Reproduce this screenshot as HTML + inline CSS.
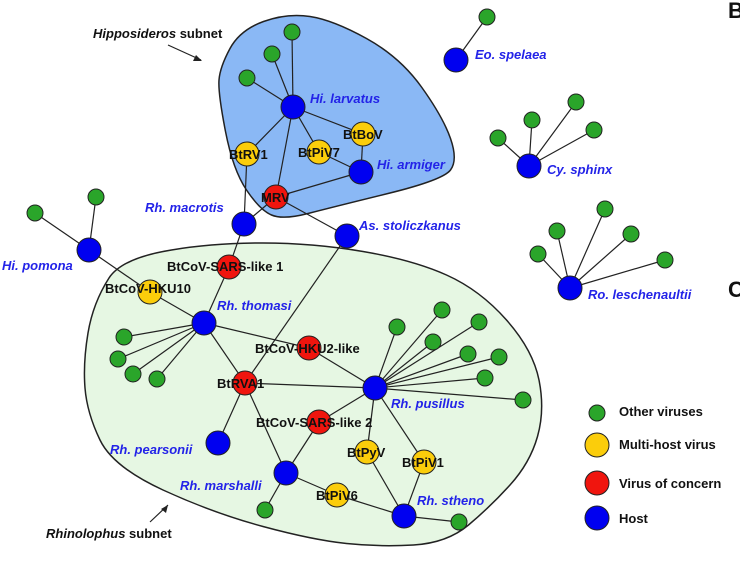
<!DOCTYPE html>
<html><head><meta charset="utf-8"><style>
html,body{margin:0;padding:0;background:#fff}
svg{display:block}
text{font-family:"Liberation Sans",Arial,sans-serif;font-weight:bold;font-size:13px}
.h{fill:#2323e8;font-style:italic}
.v{fill:#111}
</style></head><body>
<svg width="740" height="561" viewBox="0 0 740 561" xmlns="http://www.w3.org/2000/svg">
<path d="M171.5,250 Q213,243 263,243 Q313,243 363,251.5 Q413,260 446.5,275 Q480,290 506.5,320 Q533,350 539,380 Q545,410 537.5,436.5 Q530,463 510,485 Q490,507 468.5,525 Q447,543 413.5,545 Q380,547 346.5,543.5 Q313,540 263,526.5 Q213,513 163,490 Q113,467 100,440 Q87,413 85,388 Q83,363 88,333 Q93,303 109,278 Q122,258 171.5,250Z" fill="#e6f7e3" stroke="#222" stroke-width="1.5"/>
<path d="M230,48.5 Q240,30 263.5,21.5 Q287,13 310,16.5 Q333,20 366.5,38.5 Q400,57 421.5,87 Q443,117 450.5,138.5 Q458,160 450.5,170 Q443,180 388,193.5 Q333,207 308,213.5 Q283,220 271.5,215 Q260,210 246.5,190 Q233,170 225.5,131.5 Q218,93 219,80 Q220,67 230,48.5Z" fill="#8ab8f5" stroke="#222" stroke-width="1.5"/>
<g stroke="#222" stroke-width="1.2">
<line x1="293" y1="107" x2="292" y2="32"/><line x1="293" y1="107" x2="272" y2="54"/><line x1="293" y1="107" x2="247" y2="78"/>
<line x1="293" y1="107" x2="247" y2="154"/><line x1="293" y1="107" x2="319" y2="152"/><line x1="293" y1="107" x2="363" y2="134"/><line x1="293" y1="107" x2="276" y2="197"/>
<line x1="363" y1="134" x2="361" y2="172"/><line x1="319" y1="152" x2="361" y2="172"/><line x1="361" y1="172" x2="276" y2="197"/>
<line x1="247" y1="154" x2="244" y2="224"/><line x1="276" y1="197" x2="244" y2="224"/><line x1="276" y1="197" x2="347" y2="236"/>
<line x1="244" y1="224" x2="229" y2="267"/><line x1="229" y1="267" x2="204" y2="323"/><line x1="347" y1="236" x2="245" y2="383"/>
<line x1="89" y1="250" x2="35" y2="213"/><line x1="89" y1="250" x2="96" y2="197"/><line x1="89" y1="250" x2="150" y2="292"/><line x1="150" y1="292" x2="204" y2="323"/>
<line x1="204" y1="323" x2="124" y2="337"/><line x1="204" y1="323" x2="118" y2="359"/><line x1="204" y1="323" x2="133" y2="374"/><line x1="204" y1="323" x2="157" y2="379"/>
<line x1="204" y1="323" x2="309" y2="348"/><line x1="309" y1="348" x2="375" y2="388"/><line x1="204" y1="323" x2="245" y2="383"/><line x1="245" y1="383" x2="375" y2="388"/>
<line x1="245" y1="383" x2="218" y2="443"/><line x1="245" y1="383" x2="286" y2="473"/><line x1="286" y1="473" x2="319" y2="422"/><line x1="319" y1="422" x2="375" y2="388"/>
<line x1="286" y1="473" x2="265" y2="510"/><line x1="286" y1="473" x2="337" y2="495"/><line x1="337" y1="495" x2="404" y2="516"/>
<line x1="375" y1="388" x2="367" y2="452"/><line x1="367" y1="452" x2="404" y2="516"/><line x1="375" y1="388" x2="424" y2="462"/><line x1="424" y1="462" x2="404" y2="516"/><line x1="404" y1="516" x2="459" y2="522"/>
<line x1="375" y1="388" x2="397" y2="327"/><line x1="375" y1="388" x2="442" y2="310"/><line x1="375" y1="388" x2="479" y2="322"/><line x1="375" y1="388" x2="433" y2="342"/><line x1="375" y1="388" x2="468" y2="354"/><line x1="375" y1="388" x2="499" y2="357"/><line x1="375" y1="388" x2="485" y2="378"/><line x1="375" y1="388" x2="523" y2="400"/>
<line x1="456" y1="60" x2="487" y2="17"/>
<line x1="529" y1="166" x2="498" y2="138"/><line x1="529" y1="166" x2="532" y2="120"/><line x1="529" y1="166" x2="576" y2="102"/><line x1="529" y1="166" x2="594" y2="130"/>
<line x1="570" y1="288" x2="538" y2="254"/><line x1="570" y1="288" x2="557" y2="231"/><line x1="570" y1="288" x2="605" y2="209"/><line x1="570" y1="288" x2="631" y2="234"/><line x1="570" y1="288" x2="665" y2="260"/>
<line x1="168" y1="45" x2="201" y2="60"/>
<line x1="150" y1="522" x2="168" y2="505"/>
</g>
<path d="M202,61 l-9,-0 l3,-6 z" fill="#222"/>
<path d="M168,505 l-2,8 l-5,-4 z" fill="#222"/>
<g stroke="#222" stroke-width="1" fill="#2aa52a">
<circle cx="292" cy="32" r="8"/><circle cx="272" cy="54" r="8"/><circle cx="247" cy="78" r="8"/>
<circle cx="35" cy="213" r="8"/><circle cx="96" cy="197" r="8"/>
<circle cx="124" cy="337" r="8"/><circle cx="118" cy="359" r="8"/><circle cx="133" cy="374" r="8"/><circle cx="157" cy="379" r="8"/>
<circle cx="265" cy="510" r="8"/><circle cx="459" cy="522" r="8"/>
<circle cx="397" cy="327" r="8"/><circle cx="442" cy="310" r="8"/><circle cx="479" cy="322" r="8"/><circle cx="433" cy="342" r="8"/><circle cx="468" cy="354" r="8"/><circle cx="499" cy="357" r="8"/><circle cx="485" cy="378" r="8"/><circle cx="523" cy="400" r="8"/>
<circle cx="487" cy="17" r="8"/>
<circle cx="498" cy="138" r="8"/><circle cx="532" cy="120" r="8"/><circle cx="576" cy="102" r="8"/><circle cx="594" cy="130" r="8"/>
<circle cx="538" cy="254" r="8"/><circle cx="557" cy="231" r="8"/><circle cx="605" cy="209" r="8"/><circle cx="631" cy="234" r="8"/><circle cx="665" cy="260" r="8"/>
<circle cx="597" cy="413" r="8"/>
</g>
<g stroke="#222" stroke-width="1" fill="#fbcd0b">
<circle cx="247" cy="154" r="12"/><circle cx="319" cy="152" r="12"/><circle cx="363" cy="134" r="12"/>
<circle cx="150" cy="292" r="12"/><circle cx="367" cy="452" r="12"/><circle cx="424" cy="462" r="12"/><circle cx="337" cy="495" r="12"/>
<circle cx="597" cy="445" r="12"/>
</g>
<g stroke="#222" stroke-width="1" fill="#f0150e">
<circle cx="276" cy="197" r="12"/><circle cx="229" cy="267" r="12"/><circle cx="309" cy="348" r="12"/><circle cx="245" cy="383" r="12"/><circle cx="319" cy="422" r="12"/>
<circle cx="597" cy="483" r="12"/>
</g>
<g stroke="#222" stroke-width="1" fill="#0000f0">
<circle cx="293" cy="107" r="12"/><circle cx="361" cy="172" r="12"/><circle cx="244" cy="224" r="12"/><circle cx="347" cy="236" r="12"/>
<circle cx="89" cy="250" r="12"/><circle cx="204" cy="323" r="12"/><circle cx="375" cy="388" r="12"/><circle cx="218" cy="443" r="12"/>
<circle cx="286" cy="473" r="12"/><circle cx="404" cy="516" r="12"/>
<circle cx="456" cy="60" r="12"/><circle cx="529" cy="166" r="12"/><circle cx="570" cy="288" r="12"/>
<circle cx="597" cy="518" r="12"/>
</g>
<text x="93" y="38" class="v"><tspan font-style="italic">Hipposideros</tspan> subnet</text>
<text x="310" y="103" class="h">Hi. larvatus</text>
<text x="377" y="169" class="h">Hi. armiger</text>
<text x="145" y="212" class="h">Rh. macrotis</text>
<text x="359" y="230" class="h">As. stoliczkanus</text>
<text x="2" y="270" class="h">Hi. pomona</text>
<text x="217" y="310" class="h">Rh. thomasi</text>
<text x="391" y="408" class="h">Rh. pusillus</text>
<text x="110" y="454" class="h">Rh. pearsonii</text>
<text x="180" y="490" class="h">Rh. marshalli</text>
<text x="417" y="505" class="h">Rh. stheno</text>
<text x="475" y="59" class="h">Eo. spelaea</text>
<text x="547" y="174" class="h">Cy. sphinx</text>
<text x="588" y="299" class="h">Ro. leschenaultii</text>
<text x="229" y="159" class="v">BtRV1</text>
<text x="298" y="157" class="v">BtPiV7</text>
<text x="343" y="139" class="v">BtBoV</text>
<text x="261" y="202" class="v">MRV</text>
<text x="167" y="271" class="v">BtCoV-SARS-like 1</text>
<text x="105" y="293" class="v">BtCoV-HKU10</text>
<text x="255" y="353" class="v">BtCoV-HKU2-like</text>
<text x="217" y="388" class="v">BtRVA1</text>
<text x="256" y="427" class="v">BtCoV-SARS-like 2</text>
<text x="347" y="457" class="v">BtPyV</text>
<text x="402" y="467" class="v">BtPiV1</text>
<text x="316" y="500" class="v">BtPiV6</text>
<text x="46" y="538" class="v"><tspan font-style="italic">Rhinolophus</tspan> subnet</text>
<text x="619" y="416" class="v">Other viruses</text>
<text x="619" y="449" class="v">Multi-host virus</text>
<text x="619" y="488" class="v">Virus of concern</text>
<text x="619" y="523" class="v">Host</text>
<text x="728" y="18" class="v" style="font-size:22px">B</text>
<text x="728" y="297" class="v" style="font-size:22px">C</text>
</svg>
</body></html>
